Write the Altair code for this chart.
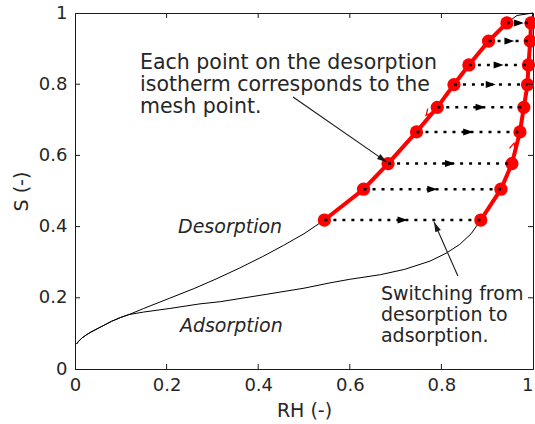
import math
import altair as alt
import pandas as pd

W, H = 458, 356
AX = "#1a1a1a"
TXT = "#262626"
FONT = "DejaVu Sans"

# ---- data ----
# shared low-RH part of both isotherms
common_rh = [0.003, 0.008, 0.015, 0.025, 0.035, 0.05, 0.065, 0.08, 0.10, 0.118]
common_s = [0.070, 0.078, 0.087, 0.096, 0.104, 0.114, 0.124, 0.134, 0.145, 0.153]
# desorption (black part before the mesh points)
des_rh = [0.15, 0.207, 0.26, 0.31, 0.36, 0.41, 0.455, 0.50]
des_s = [0.170, 0.199, 0.226, 0.254, 0.284, 0.316, 0.347, 0.380]
# desorption tail after last mesh point
des_tail_rh = [0.965, 1.0]
des_tail_s = [0.993, 1.0]
# adsorption (black part before the mesh points)
ads_rh = [0.15, 0.207, 0.273, 0.317, 0.419, 0.50, 0.557, 0.60, 0.667, 0.72, 0.775, 0.81, 0.84, 0.865]
ads_s = [0.160, 0.170, 0.183, 0.189, 0.210, 0.227, 0.242, 0.252, 0.265, 0.280, 0.303, 0.325, 0.350, 0.380]
ads_tail_rh = [1.0]
ads_tail_s = [1.0]
# mesh points
mesh_s = [0.4185, 0.505, 0.577, 0.666, 0.735, 0.799, 0.854, 0.921, 0.972]
mesh_des_rh = [0.5445, 0.630, 0.6836, 0.7456, 0.791, 0.8274, 0.860, 0.903, 0.943]
mesh_ads_rh = [0.886, 0.930, 0.954, 0.9715, 0.980, 0.988, 0.990, 0.994, 0.9956]

# annotation arrows (start -> tip) in data units
arrow_x1 = [0.476, 0.836]
arrow_y1 = [0.764, 0.261]
arrow_x2 = [0.681, 0.784]
arrow_y2 = [0.581, 0.413]

axis_vals = [0, 0.2, 0.4, 0.6, 0.8, 1]
tick_vals = [0.2, 0.4, 0.6, 0.8]

# ---- tables ----
rows = []
for branch, xs_, ys_ in [
    ("des", common_rh + des_rh + mesh_des_rh + des_tail_rh, common_s + des_s + mesh_s + des_tail_s),
    ("ads", common_rh + ads_rh + mesh_ads_rh + ads_tail_rh, common_s + ads_s + mesh_s + ads_tail_s),
]:
    for i, (a, b) in enumerate(zip(xs_, ys_)):
        rows.append({"branch": branch, "i": i, "rh": a, "s": b})
curves = pd.DataFrame(rows)

mesh_rows = []
for i, (d, a, s) in enumerate(zip(mesh_des_rh, mesh_ads_rh, mesh_s)):
    mesh_rows.append({"branch": "des", "i": i, "rh": d, "s": s})
    mesh_rows.append({"branch": "ads", "i": i, "rh": a, "s": s})
mesh = pd.DataFrame(mesh_rows)
conn = pd.DataFrame({"d": mesh_des_rh, "a": mesh_ads_rh, "s": mesh_s})

ang = []
for x1, y1, x2, y2 in zip(arrow_x1, arrow_y1, arrow_x2, arrow_y2):
    dx = (x2 - x1) * W
    dy = -(y2 - y1) * H
    ang.append(math.degrees(math.atan2(dx, -dy)) % 360)
arrows = pd.DataFrame({"x1": arrow_x1, "y1": arrow_y1, "x2": arrow_x2, "y2": arrow_y2, "ang": ang})

ticks = pd.DataFrame({"v": tick_vals})

xs = alt.Scale(domain=[0, 1], nice=False, zero=False)
ys = alt.Scale(domain=[0, 1], nice=False, zero=False)

xaxis = alt.Axis(
    values=axis_vals, format="~g", title="RH (-)", grid=False,
    ticks=False, tickSize=0, labelPadding=7, labelFlush=False,
    labelAlign=alt.condition("datum.value == 1", alt.value("right"), alt.value("center")),
    labelFont=FONT, labelFontSize=18, labelColor=TXT,
    titleFont=FONT, titleFontSize=19, titleFontWeight="normal", titleColor=TXT,
    titleBaseline="alphabetic", titleY=47.5,
    domainColor=AX, domainWidth=1,
)
yaxis = alt.Axis(
    values=axis_vals, format="~g", title="S (-)", grid=False,
    ticks=False, tickSize=0, labelPadding=8, labelFlush=False,
    labelFont=FONT, labelFontSize=18, labelColor=TXT,
    titleFont=FONT, titleFontSize=19, titleFontWeight="normal", titleColor=TXT,
    titleBaseline="alphabetic", titleAngle=270, titleX=-47.5, titleY=H / 2, titleAlign="center",
    domainColor=AX, domainWidth=1,
)


def X(f):
    return alt.X(f, scale=xs, axis=xaxis, title="RH (-)")


def Y(f):
    return alt.Y(f, scale=ys, axis=yaxis, title="S (-)")


black = alt.Chart(curves).mark_line(color="black", strokeWidth=1).encode(
    x=X("rh:Q"), y=Y("s:Q"), detail="branch:N", order="i:Q",
)

red_lines = alt.Chart(mesh).mark_line(color="#ff0000", strokeWidth=4).encode(
    x=X("rh:Q"), y=Y("s:Q"), detail="branch:N", order="i:Q",
)

red_pts = alt.Chart(mesh).mark_point(filled=True, color="#ff0000", size=175, opacity=1, shape="circle").encode(
    x=X("rh:Q"), y=Y("s:Q"),
)

dotted = alt.Chart(conn).mark_rule(color="black", strokeWidth=2.5, strokeDash=[3, 6]).encode(
    x=X("d:Q"), x2="a:Q", y=Y("s:Q"),
)

mid_tri = alt.Chart(conn).transform_calculate(m="(datum.d + datum.a) / 2").mark_point(
    shape="M1,0L-1,-0.7L-1,0.7Z", filled=True, color="black", size=100, opacity=1
).encode(x=X("m:Q"), y=Y("s:Q"))

# small direction marks on the red curves
vdes = alt.Chart(pd.DataFrame({"rh": [0.771], "s": [0.719]})).mark_point(
    shape="M-1,1L0,-1L1,1", filled=False, color="#ff0000", strokeWidth=1.3, size=40, angle=220, opacity=1
).encode(x=X("rh:Q"), y=Y("s:Q"))
vads = alt.Chart(pd.DataFrame({"rh": [0.957], "s": [0.626]})).mark_point(
    shape="M-1,1L0,-1L1,1", filled=False, color="#ff0000", strokeWidth=1.3, size=40, angle=14, opacity=1
).encode(x=X("rh:Q"), y=Y("s:Q"))

arrow_lines = alt.Chart(arrows).mark_rule(color=AX, strokeWidth=1.1).encode(
    x=X("x1:Q"), x2="x2:Q", y=Y("y1:Q"), y2="y2:Q",
)
arrow_heads = alt.Chart(arrows).mark_point(
    shape="M0,0L0.6,2L-0.6,2Z", filled=True, color=AX, size=100, opacity=1
).encode(x=X("x2:Q"), y=Y("y2:Q"), angle=alt.Angle("ang:Q", scale=None))

txt_df = pd.DataFrame({
    "rh": [0.142],
    "s": [0.843],
    "t": ["Each point on the desorption\nisotherm corresponds to the\nmesh point."],
})
txt1 = alt.Chart(txt_df).mark_text(
    align="left", baseline="alphabetic", font=FONT, fontSize=20.5, color=TXT, lineBreak="\n", lineHeight=22
).encode(x=X("rh:Q"), y=Y("s:Q"), text="t:N")

txt2_df = pd.DataFrame({
    "rh": [0.668],
    "s": [0.194],
    "t": ["Switching from\ndesorption to\nadsorption."],
})
txt2 = alt.Chart(txt2_df).mark_text(
    align="left", baseline="alphabetic", font=FONT, fontSize=19, color=TXT, lineBreak="\n", lineHeight=21
).encode(x=X("rh:Q"), y=Y("s:Q"), text="t:N")

lab_df = pd.DataFrame({"rh": [0.225, 0.229], "s": [0.382, 0.105], "t": ["Desorption", "Adsorption"]})
labs = alt.Chart(lab_df).mark_text(
    align="left", baseline="alphabetic", font=FONT, fontSize=19, fontStyle="italic", color=TXT
).encode(x=X("rh:Q"), y=Y("s:Q"), text="t:N")

TL = 5
t_bottom = alt.Chart(ticks).mark_rule(color=AX, strokeWidth=1).encode(
    x=X("v:Q"), y=alt.value(H), y2=alt.value(H - TL))
t_top = alt.Chart(ticks).mark_rule(color=AX, strokeWidth=1).encode(
    x=X("v:Q"), y=alt.value(0), y2=alt.value(TL))
t_left = alt.Chart(ticks).mark_rule(color=AX, strokeWidth=1).encode(
    y=Y("v:Q"), x=alt.value(0), x2=alt.value(TL))
t_right = alt.Chart(ticks).mark_rule(color=AX, strokeWidth=1).encode(
    y=Y("v:Q"), x=alt.value(W - TL), x2=alt.value(W))

chart = alt.layer(
    black, red_lines, red_pts, dotted, mid_tri, vdes, vads,
    arrow_lines, arrow_heads, txt1, txt2, labs,
    t_bottom, t_top, t_left, t_right,
).properties(
    width=W, height=H,
    autosize=alt.AutoSizeParams(type="none"),
    padding={"left": 75, "top": 13, "right": 2, "bottom": 55},
    background="white",
).configure_view(stroke=AX, strokeWidth=1)

chart.save("out.html", embed_options={"renderer": "svg", "actions": False})
